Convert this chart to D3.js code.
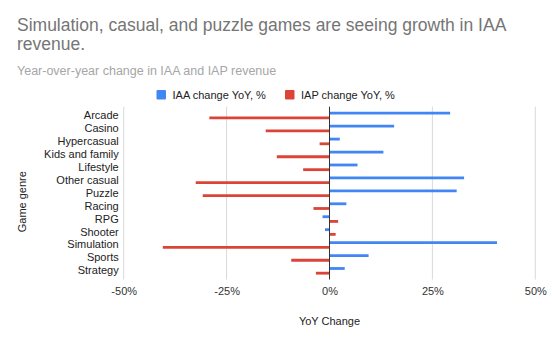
<!DOCTYPE html>
<html>
<head>
<meta charset="utf-8">
<script src="https://cdn.jsdelivr.net/npm/d3@7"></script>
<style>
  body { margin: 0; background: #fff; }
  svg { font-family: "Liberation Sans", Arial, sans-serif; }
</style>
</head>
<body>
<svg width="552" height="341"></svg>
<script>
const svg = d3.select("svg");

const genres = ["Arcade", "Casino", "Hypercasual", "Kids and family", "Lifestyle", "Other casual",
    "Puzzle", "Racing", "RPG", "Shooter", "Simulation", "Sports", "Strategy"];
const iaaChange = [29.3, 15.7, 2.5, 13.1, 6.8, 32.7, 30.9, 4.1, -1.7, -1.1, 40.7, 9.5, 3.7];
const iapChange = [-29.2, -15.5, -2.4, -12.8, -6.4, -32.5, -30.8, -3.9, 2.1, 1.5, -40.5, -9.3, -3.3];
const xTicks = [-50, -25, 0, 25, 50];
const seriesNames = ["IAA change YoY, %", "IAP change YoY, %"];
const colors = ["#4285f4", "#db4437"];

const x = d3.scaleLinear().domain([-50, 50]).range([123.7, 535.3]);
const y = d3.scaleBand().domain(genres).range([109.1, 277.3]);
const inner = d3.scaleBand().domain([0, 1]).range([-4.7, 4.7]);

// titles
svg.append("text").attr("x", 17).attr("y", 31)
    .attr("font-size", 17.5).attr("fill", "#757575")
    .text("Simulation, casual, and puzzle games are seeing growth in IAA");
svg.append("text").attr("x", 17).attr("y", 50)
    .attr("font-size", 17.5).attr("fill", "#757575")
    .text("revenue.");
svg.append("text").attr("x", 17).attr("y", 75)
    .attr("font-size", 12.5).attr("fill", "#a6a6a6")
    .text("Year-over-year change in IAA and IAP revenue");

// legend
const legendX = [156.5, 285];
seriesNames.forEach((name, i) => {
    const lg = svg.append("g").attr("transform", `translate(${legendX[i]},90)`);
    lg.append("rect").attr("width", 9.5).attr("height", 9.5).attr("rx", 1).attr("fill", colors[i]);
    lg.append("text").attr("x", 16).attr("y", 8.8)
        .attr("font-size", 11).attr("fill", "#222")
        .text(name);
});

// gridlines
svg.append("g").selectAll("line").data(xTicks.filter(d => d !== 0)).join("line")
    .attr("x1", d => x(d)).attr("x2", d => x(d))
    .attr("y1", 106.7).attr("y2", 279.5)
    .attr("stroke", "#d9d9d9").attr("stroke-width", 1);

// bars
const series = [iaaChange, iapChange];
series.forEach((vals, s) => {
    svg.append("g").selectAll("line").data(vals).join("line")
        .attr("x1", x(0))
        .attr("x2", d => x(d))
        .attr("y1", (d, i) => y(genres[i]) + y.bandwidth() / 2 + inner(s) + inner.bandwidth() / 2)
        .attr("y2", (d, i) => y(genres[i]) + y.bandwidth() / 2 + inner(s) + inner.bandwidth() / 2)
        .attr("stroke", colors[s]).attr("stroke-width", 2.8);
});

// zero axis
svg.append("line")
    .attr("x1", x(0)).attr("x2", x(0))
    .attr("y1", 106.7).attr("y2", 279.5)
    .attr("stroke", "#333").attr("stroke-width", 1);

// x axis labels
const xAxis = svg.append("g").attr("transform", "translate(0,280)")
    .call(d3.axisBottom(x).tickValues(xTicks).tickSize(0).tickPadding(7).tickFormat(d => d + "%"));
xAxis.select(".domain").remove();
xAxis.selectAll("text").attr("font-size", 11).attr("fill", "#333").attr("font-family", null);

// y axis labels
const yAxis = svg.append("g").attr("transform", `translate(${x(-50)},0)`)
    .call(d3.axisLeft(y).tickSize(0).tickPadding(5));
yAxis.select(".domain").remove();
yAxis.selectAll("text").attr("font-size", 11).attr("fill", "#222").attr("font-family", null);

// axis titles
svg.append("text").attr("x", x(0)).attr("y", 325)
    .attr("text-anchor", "middle").attr("font-size", 11).attr("fill", "#222")
    .text("YoY Change");
svg.append("text")
    .attr("transform", "translate(26,201.7) rotate(-90)")
    .attr("text-anchor", "middle").attr("font-size", 11).attr("fill", "#222")
    .text("Game genre");
</script>
</body>
</html>
